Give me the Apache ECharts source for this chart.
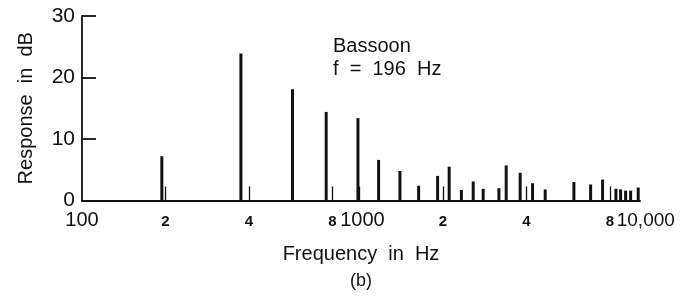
<!DOCTYPE html>
<html>
<head>
<meta charset="utf-8">
<script src="https://cdn.jsdelivr.net/npm/echarts@6/dist/echarts.min.js"></script>
<style>
    html, body { margin: 0; padding: 0; background: #fff; }
    #chart { width: 680px; height: 296px; }
</style>
</head>
<body>
<div id="chart"></div>
<script>
// spectral lines of the bassoon (frequency in Hz, level in dB)
var lineFreq = [194, 374, 574, 759, 988, 1173, 1400, 1635, 1914, 2107, 2332, 2572, 2794,
    3184, 3382, 3798, 4210, 4675, 5933, 6816, 7528, 8410, 8744, 9114, 9500, 10118];
var lineDb = [7.2, 23.9, 18.1, 14.4, 13.4, 6.6, 4.8, 2.4, 4.0, 5.5, 1.7, 3.1, 1.9,
    2.0, 5.7, 4.5, 2.8, 1.8, 3.0, 2.6, 3.4, 1.9, 1.8, 1.6, 1.6, 2.1];

// frequency axis: decades get big labels, the 2-4-8 marks get small ones
var decadeValues = [100, 1000, 10000];
var decadeText = ['100', '1000', '10,000'];
var minorValues = [200, 400, 800, 2000, 4000, 8000];
var minorText = ['2', '4', '8', '2', '4', '8'];
var freqTickValues = [200, 400, 800, 1000, 2000, 4000, 8000];
var freqMin = 100;
var freqMax = 10270;

// response axis
var dbTicks = [0, 10, 20, 30];

var ink = '#111';
var font = 'Liberation Sans, Arial, sans-serif';

var chart = echarts.init(document.getElementById('chart'));

var seriesData = [];
for (var i = 0; i < lineFreq.length; i++) {
    seriesData.push([Math.log10(lineFreq[i]), lineDb[i]]);
}

function lg(f) { return Math.log10(f); }

function lookup(values, texts, v) {
    var k = values.indexOf(Math.round(Math.pow(10, v)));
    return k < 0 ? '' : texts[k];
}

var option = {
    animation: false,
    backgroundColor: '#fff',
    textStyle: { fontFamily: font, color: ink },
    grid: { left: 82, right: 40, top: 16, bottom: 95.5 },
    xAxis: [{
        type: 'value',
        min: lg(freqMin),
        max: lg(freqMax),
        name: 'Frequency  in  Hz',
        nameLocation: 'middle',
        nameGap: 44,
        nameTextStyle: { fontSize: 20, color: ink, fontFamily: font },
        axisLine: { show: true, lineStyle: { color: ink, width: 1.8 } },
        splitLine: { show: false },
        axisTick: {
            show: true,
            inside: true,
            length: 14,
            customValues: freqTickValues.map(lg),
            lineStyle: { color: ink, width: 1.3 }
        },
        axisLabel: {
            customValues: decadeValues.map(lg),
            showMinLabel: true,
            showMaxLabel: true,
            verticalAlign: 'bottom',
            margin: 30,
            color: ink,
            formatter: function (v) {
                var t = lookup(decadeValues, decadeText, v);
                if (t === '1000') return '{mid|' + t + '}';
                if (t === '10,000') return '{end|' + t + '}';
                return '{big|' + t + '}';
            },
            rich: {
                big: { fontSize: 20, fontFamily: font, color: ink },
                mid: { fontSize: 20, fontFamily: font, color: ink, padding: [0, 0, 0, 6] },
                end: { fontSize: 19, fontFamily: font, color: ink, padding: [0, 0, 0, 18] }
            }
        }
    }, {
        type: 'value',
        position: 'bottom',
        min: lg(freqMin),
        max: lg(freqMax),
        axisLine: { show: false },
        axisTick: { show: false },
        splitLine: { show: false },
        axisLabel: {
            customValues: minorValues.map(lg),
            showMinLabel: true,
            showMaxLabel: true,
            verticalAlign: 'bottom',
            margin: 29,
            fontSize: 15,
            fontWeight: 'bold',
            fontFamily: font,
            color: ink,
            formatter: function (v) { return lookup(minorValues, minorText, v); }
        }
    }],
    yAxis: {
        type: 'value',
        min: dbTicks[0],
        max: dbTicks[dbTicks.length - 1],
        interval: 10,
        name: 'Response  in  dB',
        nameLocation: 'middle',
        nameRotate: 90,
        nameGap: 46,
        nameTextStyle: { fontSize: 20, color: ink, fontFamily: font },
        axisLine: { show: true, lineStyle: { color: ink, width: 1.8 } },
        axisTick: { show: true, inside: true, length: 14, lineStyle: { color: ink, width: 1.8 } },
        splitLine: { show: false },
        axisLabel: { fontSize: 21, color: ink, margin: 7, fontFamily: font }
    },
    graphic: [
        {
            type: 'text',
            left: 333,
            top: 36,
            style: { text: 'Bassoon', font: '20px ' + font, fill: ink }
        },
        {
            type: 'text',
            left: 333,
            top: 59,
            style: { text: 'f  =  196  Hz', font: '20px ' + font, fill: ink }
        },
        {
            type: 'text',
            x: 361,
            y: 281,
            style: { text: '(b)', font: '18px ' + font, fill: ink, align: 'center', verticalAlign: 'middle' }
        }
    ],
    series: [{
        type: 'bar',
        xAxisIndex: 0,
        data: seriesData,
        barWidth: 3,
        itemStyle: { color: ink },
        silent: true
    }]
};

chart.setOption(option);
</script>
</body>
</html>
